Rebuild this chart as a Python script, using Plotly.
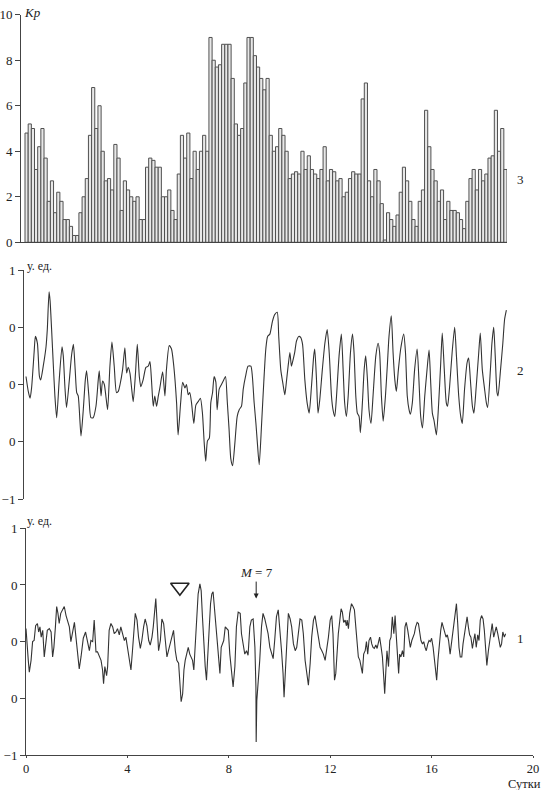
import plotly.graph_objects as go
import numpy as np

# ---------------- data ----------------
# Kp index, 3-hour values (8 per day)
kp_values = [
    4.8, 5.2, 5.0, 3.2, 4.2, 5.0, 3.7, 1.8, 2.7, 1.3,
    2.2, 1.8, 1.0, 1.0, 0.7, 0.3, 0.3, 1.3, 2.0, 2.8,
    4.7, 6.8, 5.0, 6.0, 4.0, 2.7, 2.8, 2.3, 4.3, 3.7,
    1.4, 2.7, 2.3, 2.0, 1.8, 2.0, 1.0, 1.0, 3.3, 3.7,
    3.6, 3.3, 3.3, 2.0, 2.0, 2.3, 1.4, 1.0, 3.0, 4.7,
    3.7, 4.8, 2.8, 4.0, 3.2, 4.0, 4.7, 4.0, 9.0, 8.0,
    7.7, 7.8, 8.7, 8.7, 8.7, 7.2, 5.2, 4.7, 5.0, 7.0,
    9.0, 9.0, 8.2, 7.7, 7.2, 6.7, 7.2, 4.7, 4.0, 4.2,
    5.0, 4.7, 4.0, 2.8, 3.0, 3.1, 3.0, 4.0, 3.2, 3.8,
    3.2, 3.0, 2.8, 3.2, 4.2, 2.7, 3.2, 3.1, 2.7, 2.8,
    2.0, 2.2, 2.8, 3.1, 3.0, 3.0, 6.3, 7.0, 2.7, 2.0,
    3.2, 2.7, 1.7, 0.1, 1.3, 1.0, 0.7, 1.2, 2.2, 3.3,
    2.7, 1.8, 1.0, 0.7, 1.8, 2.3, 5.8, 4.2, 3.2, 2.7,
    1.8, 2.3, 1.0, 1.8, 1.4, 1.4, 1.3, 1.0, 0.6, 1.8,
    2.8, 3.2, 2.3, 3.2, 2.7, 3.0, 3.7, 3.8, 5.8, 4.0,
    5.0, 3.2,
]
kp_interval_days = 0.125

# Series 2 (middle panel), days and relative units
mid_days = [
    0.00, 0.09, 0.16, 0.22, 0.32, 0.37, 0.45, 0.53, 0.58, 0.68, 0.79, 0.84, 0.91, 0.95,
    1.01, 1.08, 1.14, 1.21, 1.31, 1.42, 1.47, 1.54, 1.60, 1.71, 1.80, 1.87, 1.94, 2.00,
    2.06, 2.17, 2.26, 2.34, 2.39, 2.48, 2.56, 2.65, 2.76, 2.85, 2.89, 2.96, 3.02, 3.09,
    3.15, 3.22, 3.31, 3.39, 3.48, 3.57, 3.64, 3.71, 3.81, 3.90, 3.97, 4.03, 4.10, 4.17,
    4.23, 4.32, 4.39, 4.47, 4.53, 4.62, 4.73, 4.82, 4.89, 4.95, 5.02, 5.08, 5.15, 5.22,
    5.28, 5.39, 5.48, 5.54, 5.65, 5.74, 5.83, 5.94, 6.00, 6.10, 6.18, 6.27, 6.33, 6.40,
    6.46, 6.53, 6.62, 6.70, 6.79, 6.88, 6.96, 7.03, 7.09, 7.16, 7.23, 7.29, 7.36, 7.42,
    7.49, 7.54, 7.62, 7.71, 7.80, 7.87, 7.94, 8.01, 8.08, 8.15, 8.24, 8.33, 8.41, 8.50,
    8.57, 8.66, 8.76, 8.87, 8.93, 9.00, 9.07, 9.13, 9.20, 9.29, 9.38, 9.46, 9.53, 9.62,
    9.72, 9.81, 9.91, 9.97, 10.05, 10.14, 10.21, 10.27, 10.34, 10.41, 10.47, 10.54, 10.60,
    10.67, 10.76, 10.84, 10.91, 11.00, 11.09, 11.17, 11.26, 11.35, 11.39, 11.46, 11.52,
    11.59, 11.69, 11.79, 11.88, 11.96, 12.05, 12.11, 12.18, 12.25, 12.35, 12.44, 12.51,
    12.57, 12.64, 12.71, 12.80, 12.88, 12.94, 13.01, 13.07, 13.14, 13.19, 13.27, 13.34,
    13.40, 13.47, 13.53, 13.61, 13.69, 13.80, 13.89, 13.95, 14.02, 14.09, 14.18, 14.26,
    14.32, 14.41, 14.48, 14.55, 14.61, 14.69, 14.78, 14.90, 14.97, 15.04, 15.11, 15.16,
    15.24, 15.33, 15.43, 15.50, 15.57, 15.64, 15.73, 15.82, 15.90, 15.96, 16.03, 16.10,
    16.19, 16.28, 16.36, 16.42, 16.50, 16.58, 16.63, 16.71, 16.81, 16.91, 16.98, 17.07,
    17.15, 17.21, 17.30, 17.40, 17.46, 17.53, 17.61, 17.67, 17.76, 17.86, 17.92, 18.00,
    18.09, 18.16, 18.21, 18.32, 18.38, 18.45, 18.51, 18.58, 18.62, 18.72, 18.81, 18.88,
    18.95,
]
mid_values = [
    0.07, -0.06, -0.12, -0.03, 0.28, 0.42, 0.36, 0.07, 0.04, 0.16, 0.33, 0.48, 0.81, 0.73,
    0.48, 0.16, -0.10, -0.29, 0.04, 0.33, 0.25, -0.04, -0.20, 0.04, 0.26, 0.35, 0.13, -0.07,
    -0.10, -0.45, -0.22, 0.04, 0.12, -0.10, -0.29, -0.29, -0.19, 0.04, 0.12, -0.10, 0.03, 0.00,
    -0.10, -0.22, 0.16, 0.37, 0.16, -0.07, -0.06, 0.00, 0.13, 0.32, 0.10, 0.15, 0.10, -0.04,
    -0.15, 0.10, 0.35, 0.07, -0.02, 0.04, 0.15, 0.16, 0.20, 0.04, -0.19, -0.10, -0.19, -0.10,
    -0.03, 0.11, -0.10, 0.13, 0.34, 0.31, 0.16, -0.16, -0.44, -0.16, 0.02, -0.03, 0.00, -0.09,
    -0.07, -0.16, -0.34, -0.18, -0.15, -0.12, -0.25, -0.51, -0.67, -0.49, -0.47, -0.16, -0.07, 0.07,
    0.02, -0.22, -0.04, 0.00, 0.04, 0.07, -0.15, -0.39, -0.65, -0.71, -0.51, -0.28, -0.22, -0.19,
    -0.04, 0.07, 0.16, 0.16, 0.07, -0.16, -0.34, -0.52, -0.70, -0.36, 0.02, 0.31, 0.42, 0.44,
    0.55, 0.61, 0.63, 0.42, 0.13, 0.00, -0.09, 0.02, 0.16, 0.28, 0.16, 0.22, 0.28,
    0.38, 0.42, 0.41, 0.35, 0.04, -0.16, -0.25, -0.02, 0.25, 0.31, 0.04, -0.25,
    -0.13, 0.13, 0.36, 0.48, 0.28, -0.10, -0.22, -0.28, -0.10, 0.25, 0.44, 0.13,
    -0.16, -0.28, -0.10, 0.28, 0.44, 0.28, -0.10, -0.25, -0.28, -0.42, -0.16, 0.13,
    0.25, 0.04, -0.22, -0.34, -0.10, 0.25, 0.36, 0.28, -0.10, -0.32, -0.10, 0.19,
    0.42, 0.60, 0.28, 0.04, -0.06, 0.13, 0.31, 0.44, 0.28, -0.10, -0.22, -0.26,
    -0.16, 0.13, 0.31, 0.04, -0.28, -0.38, -0.10, 0.13, 0.30, 0.04, -0.25, -0.32,
    -0.44, -0.16, 0.19, 0.45, 0.13, -0.16, -0.19, -0.02, 0.28, 0.50, 0.25, -0.10,
    -0.28, -0.34, -0.04, 0.19, 0.23, 0.04, -0.19, -0.25, -0.02, 0.28, 0.45, 0.13,
    -0.04, -0.16, -0.20, 0.13, 0.36, 0.50, 0.25, -0.07, -0.10, 0.13, 0.36, 0.57,
    0.65,
]

# Series 1 (bottom panel), days and relative units
bot_days = [
    0.00, 0.03, 0.09, 0.13, 0.20, 0.26, 0.32, 0.38, 0.45, 0.50, 0.55, 0.60, 0.66, 0.72,
    0.79, 0.84, 0.92, 0.99, 1.05, 1.10, 1.16, 1.21, 1.26, 1.31, 1.37, 1.45, 1.51, 1.58,
    1.64, 1.71, 1.77, 1.84, 1.91, 1.97, 2.04, 2.10, 2.17, 2.26, 2.35, 2.43, 2.50, 2.56,
    2.63, 2.69, 2.76, 2.82, 2.89, 2.96, 3.02, 3.06, 3.11, 3.18, 3.22, 3.28, 3.35, 3.42,
    3.48, 3.55, 3.61, 3.68, 3.74, 3.81, 3.88, 3.94, 4.01, 4.07, 4.14, 4.20, 4.27, 4.31,
    4.38, 4.44, 4.51, 4.57, 4.64, 4.70, 4.77, 4.84, 4.90, 4.97, 5.02, 5.07, 5.12, 5.18,
    5.23, 5.30, 5.36, 5.43, 5.49, 5.56, 5.62, 5.69, 5.76, 5.82, 5.89, 5.95, 6.02, 6.07,
    6.12, 6.18, 6.23, 6.28, 6.33, 6.40, 6.46, 6.52, 6.57, 6.62, 6.67, 6.73, 6.79, 6.86,
    6.91, 6.96, 7.02, 7.07, 7.12, 7.17, 7.23, 7.28, 7.33, 7.38, 7.44, 7.49, 7.54, 7.59,
    7.65, 7.70, 7.75, 7.80, 7.86, 7.91, 7.98, 8.04, 8.11, 8.17, 8.24, 8.30, 8.37, 8.45,
    8.50, 8.57, 8.63, 8.70, 8.76, 8.83, 8.89, 8.96, 9.03, 9.07, 9.08, 9.105, 9.16, 9.22,
    9.29, 9.35, 9.42, 9.49, 9.55, 9.62, 9.68, 9.75, 9.81, 9.88, 9.95, 10.01, 10.08, 10.14,
    10.18, 10.235, 10.30, 10.35, 10.42, 10.48, 10.55, 10.62, 10.68, 10.75, 10.81, 10.88,
    10.94, 11.01, 11.08, 11.14, 11.21, 11.27, 11.34, 11.40, 11.47, 11.54, 11.60, 11.67,
    11.73, 11.80, 11.86, 11.93, 12.00, 12.06, 12.11, 12.17, 12.22, 12.27, 12.32, 12.38,
    12.43, 12.48, 12.53, 12.59, 12.64, 12.67, 12.72, 12.77, 12.84, 12.90, 12.955, 13.01,
    13.06, 13.11, 13.17, 13.22, 13.27, 13.32, 13.38, 13.43, 13.48, 13.53, 13.59, 13.64,
    13.69, 13.74, 13.80, 13.85, 13.90, 13.95, 14.01, 14.06, 14.11, 14.15, 14.19, 14.24,
    14.30, 14.35, 14.40, 14.45, 14.51, 14.56, 14.61, 14.66, 14.70, 14.74, 14.79, 14.85,
    14.90, 14.95, 15.00, 15.06, 15.11, 15.16, 15.22, 15.27, 15.32, 15.37, 15.43, 15.48,
    15.53, 15.58, 15.64, 15.69, 15.74, 15.79, 15.85, 15.90, 15.95, 16.00, 16.06, 16.11,
    16.16, 16.20, 16.25, 16.31, 16.36, 16.41, 16.46, 16.52, 16.57, 16.62, 16.67, 16.73,
    16.78, 16.83, 16.88, 16.94, 16.98, 17.03, 17.08, 17.13, 17.19, 17.24, 17.29, 17.34,
    17.40, 17.45, 17.50, 17.55, 17.61, 17.66, 17.71, 17.76, 17.82, 17.87, 17.92, 17.97,
    18.03, 18.08, 18.13, 18.18, 18.24, 18.29, 18.34, 18.39, 18.45, 18.50, 18.55, 18.61,
    18.66, 18.71, 18.76, 18.81, 18.87, 18.92,
]
bot_values = [
    0.115, -0.02, -0.165, -0.27, -0.165, 0.00, 0.01, 0.14, 0.16, 0.085, 0.13, 0.04, 0.10, -0.135,
    -0.02, 0.10, 0.115, 0.085, -0.135, -0.05, 0.13, 0.31, 0.25, 0.16, 0.25, 0.28, 0.31, 0.23,
    0.17, 0.13, 0.00, 0.085, 0.17, 0.04, -0.135, -0.24, -0.135, 0.03, 0.085, -0.02, -0.08, 0.01,
    0.00, 0.19, -0.09, -0.09, -0.135, -0.165, -0.25, -0.37, -0.22, -0.30, -0.22, 0.10, 0.16, 0.13,
    0.07, 0.085, 0.115, 0.06, 0.13, 0.07, 0.01, 0.04, -0.05, -0.165, -0.25, -0.08, 0.13, 0.25,
    0.19, 0.04, -0.06, 0.01, 0.13, 0.20, 0.14, 0.01, -0.03, 0.04, 0.13, 0.28, 0.38, 0.13,
    -0.08, 0.01, 0.20, 0.16, 0.01, -0.135, -0.08, -0.02, 0.06, 0.10, -0.08, -0.165, -0.19, -0.40,
    -0.53, -0.46, -0.25, -0.165, -0.11, -0.05, -0.11, -0.135, -0.165, -0.25, -0.02, 0.19, 0.42, 0.51,
    0.45, 0.22, -0.05, -0.22, -0.34, -0.165, 0.13, 0.335, 0.42, 0.44, 0.28, 0.13, -0.02, -0.165,
    -0.28, -0.05, -0.02, 0.01, 0.13, 0.115, 0.10, -0.11, -0.28, -0.40, -0.22, 0.13, 0.26, 0.25,
    0.07, -0.05, -0.11, -0.08, -0.12, 0.13, 0.19, 0.20, -0.05, -0.40, -0.885, -0.52, -0.37, -0.165,
    0.13, 0.25, 0.20, 0.13, 0.07, -0.05, -0.11, -0.15, 0.01, 0.22, 0.28, 0.13, -0.08, -0.28,
    -0.49, -0.25, 0.04, 0.25, 0.20, 0.13, -0.02, -0.08, -0.05, 0.10, 0.20, 0.19,
    0.07, -0.165, -0.31, -0.385, -0.19, 0.04, 0.19, 0.23, 0.13, 0.04, -0.05, -0.08,
    -0.11, -0.165, -0.08, 0.04, 0.19, 0.23, 0.07, -0.34, -0.28, -0.05, 0.07, 0.19,
    0.29, 0.26, 0.17, 0.19, 0.14, 0.19, 0.115, 0.25, 0.335, 0.31, 0.28, 0.13,
    0.01, -0.135, -0.165, -0.22, -0.28, -0.11, -0.08, 0.00, -0.11, 0.01, 0.04, -0.02,
    -0.05, -0.06, -0.03, -0.06, -0.02, 0.04, -0.05, -0.135, -0.31, -0.46, -0.28, -0.08,
    -0.22, 0.01, 0.04, 0.22, 0.07, 0.23, 0.04, -0.165, -0.28, -0.11, -0.135, -0.08,
    -0.135, 0.13, 0.17, 0.10, 0.01, -0.05, 0.01, 0.04, 0.07, 0.13, 0.17, 0.16,
    0.10, 0.01, -0.02, 0.00, -0.05, -0.08, -0.02, 0.01, 0.00, 0.03, -0.05, -0.165,
    -0.28, -0.34, -0.165, 0.01, 0.10, 0.17, 0.13, 0.06, 0.04, 0.06, 0.01, -0.11,
    -0.02, 0.04, 0.16, 0.28, 0.335, 0.16, -0.05, -0.135, -0.135, -0.02, 0.07, 0.13,
    0.22, 0.13, 0.06, 0.04, -0.06, 0.01, 0.07, -0.05, 0.06, 0.01, 0.19, 0.23,
    0.20, 0.10, -0.05, -0.21, -0.08, 0.01, 0.07, 0.16, 0.04, 0.10, 0.13, 0.07,
    0.01, -0.05, -0.02, 0.085, 0.04, 0.07,
]

kp_ticks = [0, 2, 4, 6, 8, 10]
unit_ticks = [-1, -0.5, 0, 0.5, 1]
unit_ticktext = ["−1", "0", "0", "0", "1"]
day_ticks = [0, 4, 8, 12, 16, 20]

storm_day, storm_kp = 7.35, 10.12          # filled triangle (storm)
event_day, event_value = 6.07, 0.48        # open triangle
quake_day, quake_value = 9.08, 0.38        # M = 7 arrow tip

# ---------------- figure ----------------
W, H = 544, 790
def fx(p):
    return p / W
def fy(p):
    return (H - p) / H

SERIF = "Liberation Serif"
INK = "#222222"
AX = "#444444"

kp_x = (np.arange(len(kp_values)) + 0.5) * kp_interval_days

fig = go.Figure()
fig.add_trace(go.Bar(
    x=kp_x, y=kp_values, width=kp_interval_days,
    marker=dict(color="#e8e8e8", line=dict(color="#505050", width=1)),
    xaxis="x", yaxis="y", showlegend=False, hoverinfo="skip",
))
fig.add_trace(go.Scatter(
    x=[storm_day], y=[storm_kp], mode="markers",
    marker=dict(symbol="triangle-up", size=17, color="#111111"),
    cliponaxis=False, xaxis="x", yaxis="y", showlegend=False,
))
fig.add_trace(go.Scatter(
    x=mid_days, y=mid_values, mode="lines",
    line=dict(color="#333333", width=1.1, shape="spline", smoothing=0.6),
    xaxis="x2", yaxis="y2", showlegend=False,
))
fig.add_trace(go.Scatter(
    x=bot_days, y=bot_values, mode="lines",
    line=dict(color="#333333", width=1.1),
    xaxis="x3", yaxis="y3", showlegend=False,
))
fig.add_trace(go.Scatter(
    x=[event_day], y=[event_value], mode="markers",
    marker=dict(symbol="triangle-down-open", size=16, color="#222222",
                line=dict(width=1.6, color="#222222")),
    cliponaxis=False, xaxis="x3", yaxis="y3", showlegend=False,
))

tickfont = dict(family=SERIF, size=13, color=INK)
yax_common = dict(showline=True, linecolor=AX, linewidth=1, ticks="outside",
                  ticklen=5, tickwidth=1, tickcolor=AX, showgrid=False,
                  zeroline=False, tickfont=tickfont, automargin=False)

fig.update_layout(
    width=W, height=H,
    margin=dict(l=0, r=0, t=0, b=0),
    paper_bgcolor="white", plot_bgcolor="white",
    bargap=0,
    hovermode=False,
    xaxis=dict(domain=[fx(21), fx(507)], range=[-0.158, 19.0], anchor="y",
               showline=True, linecolor=AX, linewidth=1, ticks="",
               showticklabels=False, showgrid=False, zeroline=False),
    yaxis=dict(domain=[fy(242.3), fy(14.7)], range=[0, 10], anchor="x",
               tickvals=kp_ticks, **yax_common),
    xaxis2=dict(domain=[fx(24), fx(533)], range=[-0.079, 20], anchor="y2",
                visible=False),
    yaxis2=dict(domain=[fy(499), fy(270)], range=[-1, 1], anchor="x2",
                tickvals=unit_ticks, ticktext=unit_ticktext, **yax_common),
    xaxis3=dict(domain=[fx(26), fx(533)], range=[0, 20], anchor="y3",
                showline=True, linecolor=AX, linewidth=1, ticks="outside",
                ticklen=2, tickwidth=1, tickcolor=AX, tickvals=day_ticks,
                showgrid=False, zeroline=False,
                tickfont=dict(family=SERIF, size=12.5, color=INK), automargin=False),
    yaxis3=dict(domain=[fy(755), fy(528.3)], range=[-1, 1], anchor="x3",
                tickvals=unit_ticks, ticktext=unit_ticktext, **yax_common),
)

def label(text, x, y, size=13, xanchor="center"):
    fig.add_annotation(text=text, xref="paper", yref="paper", x=x, y=y,
                       xanchor=xanchor, yanchor="middle", showarrow=False,
                       font=dict(family=SERIF, size=size, color=INK))

label("<i>Kp</i>", fx(22), fy(12.5), 13, "left")
label("у. ед.", fx(25), fy(266), 12, "left")
label("у. ед.", fx(25), fy(521), 12, "left")
label("3", fx(520.5), fy(179))
label("2", fx(520.5), fy(370))
label("1", fx(520.5), fy(638))
label("Сутки", fx(543), fy(783.5), 12.5, "right")

fig.add_annotation(
    text="<i>M</i> = 7", x=quake_day, y=quake_value, xref="x3", yref="y3",
    showarrow=True, ax=0, ay=-26, arrowhead=2, arrowsize=1, arrowwidth=1,
    arrowcolor=INK, font=dict(family=SERIF, size=13, color=INK),
)

fig.write_html(
    "out.html",
    config={"displayModeBar": False, "staticPlot": True},
    post_script="document.body.style.margin='0';document.body.style.overflow='hidden';",
)
